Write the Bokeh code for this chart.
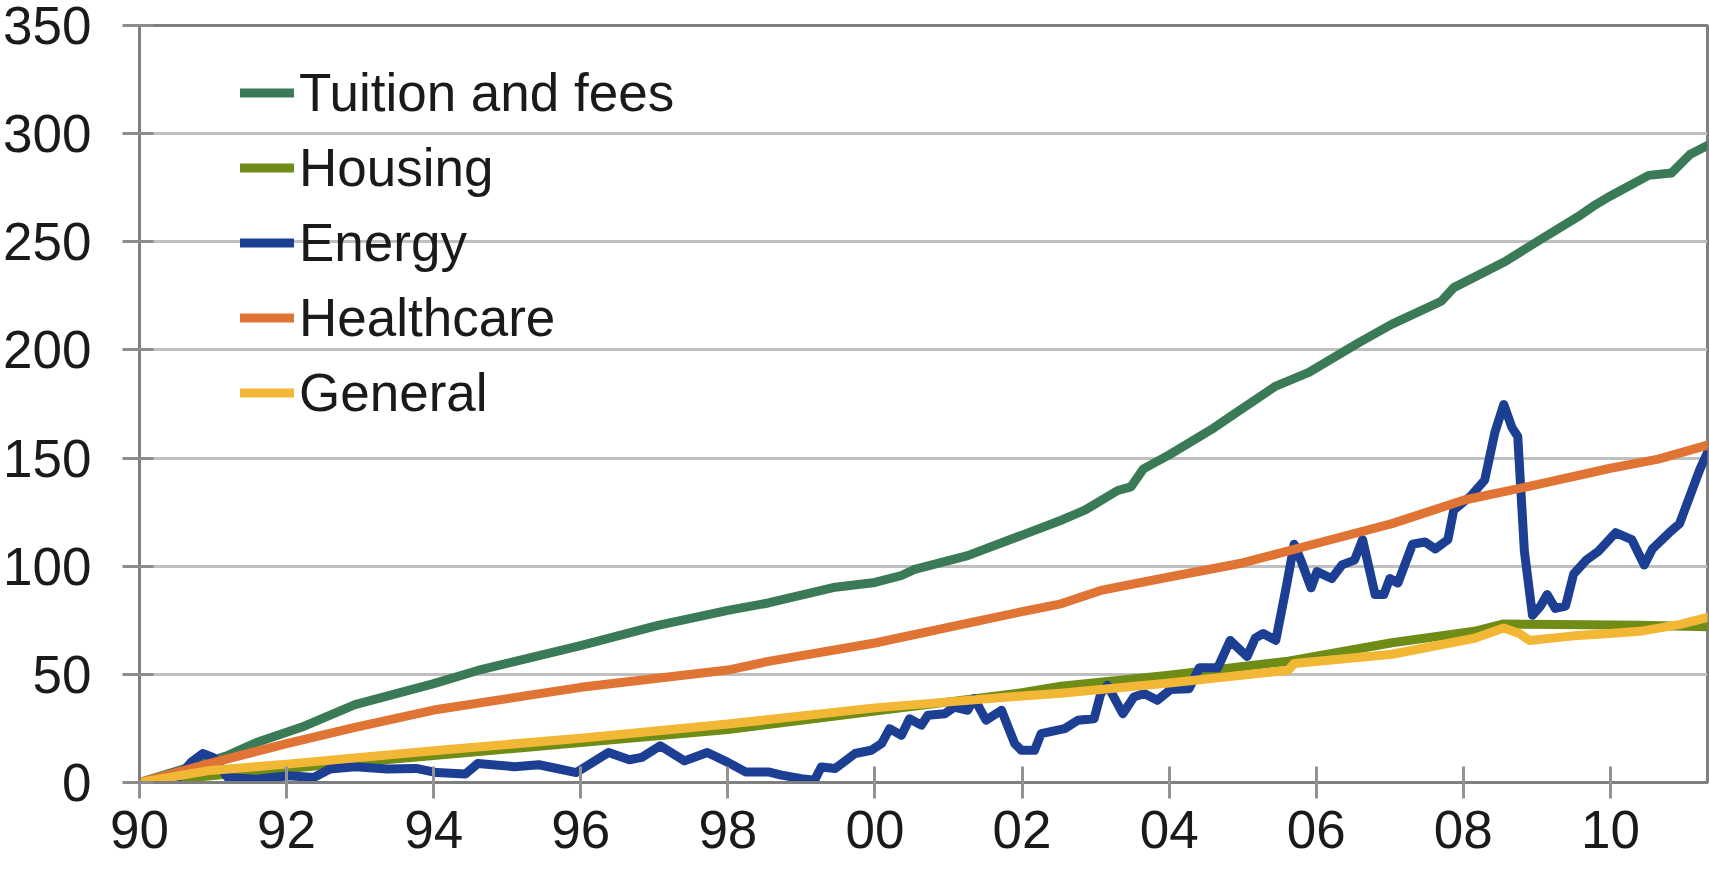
from bokeh.plotting import figure
from bokeh.models import Range1d, Legend, LegendItem, FixedTicker, CustomJSTickFormatter
from bokeh.embed import file_html
from bokeh.resources import INLINE

# ---------------- data ----------------
x_ticks = [1990, 1992, 1994, 1996, 1998, 2000, 2002, 2004, 2006, 2008, 2010]
x_tick_labels = ["90", "92", "94", "96", "98", "00", "02", "04", "06", "08", "10"]
y_ticks = [0, 50, 100, 150, 200, 250, 300, 350]

tuition_x = [1990.0, 1991.2, 1991.59, 1992.2, 1992.93, 1993.99, 1994.6, 1996.01, 1997.05,
             1998.0, 1998.55, 1999.46, 2000.0, 2000.36, 2000.54, 2001.26, 2002.01, 2002.55,
             2002.86, 2003.3, 2003.48, 2003.65, 2004.0, 2004.61, 2004.89, 2005.45, 2005.9,
             2006.58, 2007.03, 2007.7, 2007.87, 2008.55, 2009.0, 2009.56, 2009.79, 2010.0,
             2010.52, 2010.83, 2011.08, 2011.32]
tuition_y = [0, 12.5, 18.5, 25.5, 36.0, 45.6, 51.8, 63.4, 72.6,
             79.6, 83.0, 90.3, 92.5, 95.7, 98.5, 104.9, 114.5, 121.5,
             126.0, 135.0, 136.7, 145.0, 151.5, 164.0, 170.5, 183.3, 189.6,
             203.4, 211.9, 222.5, 228.8, 240.5, 250.0, 261.6, 267.0, 271.2,
             280.7, 281.8, 290.3, 294.5]

housing_x = [1990.0, 1992.0, 1994.0, 1996.0, 1998.0, 2000.0, 2002.0, 2002.53, 2004.0,
             2005.62, 2007.03, 2008.15, 2008.55, 2009.28, 2010.4, 2011.32]
housing_y = [0, 6.5, 12.5, 18.5, 24.5, 33.0, 41.5, 44.5, 49.6,
             56.1, 64.6, 69.9, 73.3, 73.1, 72.7, 72.0]

energy_x = [1990.0, 1990.47, 1990.7, 1990.86, 1991.0, 1991.2, 1991.59, 1992.03, 1992.37,
            1992.59, 1992.93, 1993.37, 1993.76, 1994.04, 1994.43, 1994.6, 1995.1, 1995.43,
            1995.66, 1995.94, 1996.16, 1996.38, 1996.66, 1996.83, 1997.08, 1997.41, 1997.72,
            1998.0, 1998.24, 1998.55, 1998.73, 1999.0, 1999.18, 1999.27, 1999.46, 1999.73,
            1999.95, 2000.09, 2000.2, 2000.36, 2000.47, 2000.63, 2000.72, 2000.95, 2001.08,
            2001.26, 2001.35, 2001.51, 2001.72, 2001.9, 2001.99, 2002.17, 2002.26, 2002.58,
            2002.76, 2002.98, 2003.07, 2003.16, 2003.37, 2003.52, 2003.66, 2003.84, 2004.02,
            2004.27, 2004.41, 2004.66, 2004.83, 2005.06, 2005.17, 2005.28, 2005.45, 2005.59,
            2005.7, 2005.79, 2005.93, 2006.01, 2006.21, 2006.35, 2006.52, 2006.63, 2006.8,
            2006.92, 2007.0, 2007.11, 2007.31, 2007.48, 2007.62, 2007.79, 2007.87, 2008.1,
            2008.29, 2008.43, 2008.55, 2008.66, 2008.74, 2008.83, 2008.94, 2009.05, 2009.14,
            2009.25, 2009.39, 2009.5, 2009.67, 2009.84, 2010.07, 2010.29, 2010.46, 2010.57,
            2010.8, 2010.94, 2011.08, 2011.22, 2011.32]
energy_y = [0, 0, 9.3, 13.4, 11.6, 2.3, 1.5, 3.1, 2.3,
            6.2, 7.3, 6.2, 6.5, 4.6, 3.9, 8.8, 7.3, 8.2,
            6.6, 4.6, 9.3, 13.9, 10.5, 11.6, 17.0, 10.0, 13.9,
            9.3, 4.9, 4.9, 3.4, 1.8, 1.1, 7.2, 6.5, 13.4,
            14.9, 18.0, 24.9, 21.8, 29.5, 26.5, 31.1, 31.8, 34.9,
            33.4, 38.8, 28.8, 33.4, 18.0, 14.9, 14.9, 22.6, 24.9,
            28.8, 29.5, 41.1, 45.0, 31.8, 39.5, 41.1, 38.0, 43.0,
            43.4, 53.0, 53.0, 65.7, 58.3, 66.7, 68.9, 65.7, 90.0,
            110.2, 102.8, 90.0, 97.5, 94.3, 100.6, 102.8, 112.3, 86.9,
            86.9, 94.3, 92.2, 110.2, 111.2, 108.0, 112.3, 126.0, 132.4,
            139.8, 162.0, 174.8, 164.2, 160.0, 107.0, 77.3, 81.6, 86.9,
            80.5, 81.6, 96.4, 102.8, 107.0, 115.5, 112.3, 100.6, 108.0,
            115.5, 119.7, 132.4, 145.1, 152.5]

healthcare_x = [1990.0, 1990.92, 1992.0, 1992.93, 1994.0, 1996.0, 1998.0, 1998.55, 2000.0,
                2002.0, 2002.53, 2003.07, 2004.0, 2005.0, 2006.0, 2007.03, 2008.0, 2009.0,
                2010.0, 2010.65, 2011.32]
healthcare_y = [0, 8.5, 18.0, 25.5, 33.5, 44.0, 52.0, 56.0, 64.5,
                79.0, 82.6, 88.8, 95.0, 101.5, 110.5, 119.7, 130.5, 137.7,
                145.3, 149.5, 156.0]

general_x = [1990.0, 1990.92, 1992.0, 1994.0, 1996.0, 1998.0, 2000.0, 2002.0, 2002.53,
             2004.0, 2005.62, 2005.7, 2007.03, 2008.15, 2008.55, 2008.76, 2008.9, 2009.5,
             2009.84, 2010.4, 2010.95, 2011.32]
general_y = [0, 5.4, 8.5, 14.7, 20.5, 27.0, 34.5, 40.0, 41.3,
             46.0, 51.9, 55.0, 59.3, 66.7, 71.4, 68.9, 65.7, 67.8,
             68.5, 69.9, 73.1, 76.3]

series_names = ["Tuition and fees", "Housing", "Energy", "Healthcare", "General"]
series_colors = ["#3b7a57", "#6f8c16", "#1c3f94", "#e07434", "#f2b735"]

# ---------------- figure ----------------
FONT = "Liberation Sans"
FSIZE = "53px"

p = figure(width=1709, height=871, output_backend="svg", toolbar_location=None, title=None,
           x_range=Range1d(1990, 2011.32), y_range=Range1d(0, 350),
           min_border_left=138, min_border_right=2, min_border_top=25, min_border_bottom=89)
p.background_fill_color = "white"
p.border_fill_color = "white"
p.outline_line_color = "#7f7f7f"
p.outline_line_width = 3

p.xaxis.ticker = FixedTicker(ticks=x_ticks)
p.xaxis.formatter = CustomJSTickFormatter(
    args=dict(tvals=x_ticks, tlabs=x_tick_labels),
    code="const k = tvals.indexOf(Math.round(tick)); return k >= 0 ? tlabs[k] : '';")
p.xaxis.major_tick_in = 16
p.xaxis.major_tick_out = 16
p.xaxis.minor_tick_line_color = None
p.xaxis.axis_line_color = "#7f7f7f"
p.xaxis.axis_line_width = 3
p.xaxis.major_tick_line_color = "#939393"
p.xaxis.major_tick_line_width = 3
p.xaxis.major_label_text_font = FONT
p.xaxis.major_label_text_font_size = FSIZE
p.xaxis.major_label_text_color = "#1a1a1a"
p.xaxis.major_label_standoff = 12

p.yaxis.ticker = FixedTicker(ticks=y_ticks)
p.yaxis.major_tick_in = 14
p.yaxis.major_tick_out = 17
p.yaxis.minor_tick_line_color = None
p.yaxis.axis_line_color = "#7f7f7f"
p.yaxis.axis_line_width = 3
p.yaxis.major_tick_line_color = "#8c8c8c"
p.yaxis.major_tick_line_width = 3
p.yaxis.major_label_text_font = FONT
p.yaxis.major_label_text_font_size = FSIZE
p.yaxis.major_label_text_color = "#1a1a1a"
p.yaxis.major_label_standoff = 31

p.xgrid.visible = False
p.ygrid.grid_line_color = "#c0c0c0"
p.ygrid.grid_line_width = 3

data = [(tuition_x, tuition_y), (housing_x, housing_y), (energy_x, energy_y),
        (healthcare_x, healthcare_y), (general_x, general_y)]
items = []
for (xs, ys), name, col in zip(data, series_names, series_colors):
    r = p.line(xs, ys, line_color=col, line_width=9, line_join="round", line_cap="round")
    items.append(LegendItem(label=name, renderers=[r]))

legend = Legend(items=items, location=(101, 352), padding=0, margin=0, spacing=0,
                glyph_width=54, glyph_height=75, label_height=75, label_standoff=5,
                border_line_color=None, background_fill_alpha=0,
                label_text_font=FONT, label_text_font_size=FSIZE, label_text_color="#1a1a1a")
p.add_layout(legend)

open("out.html", "w").write(file_html(p, INLINE))
